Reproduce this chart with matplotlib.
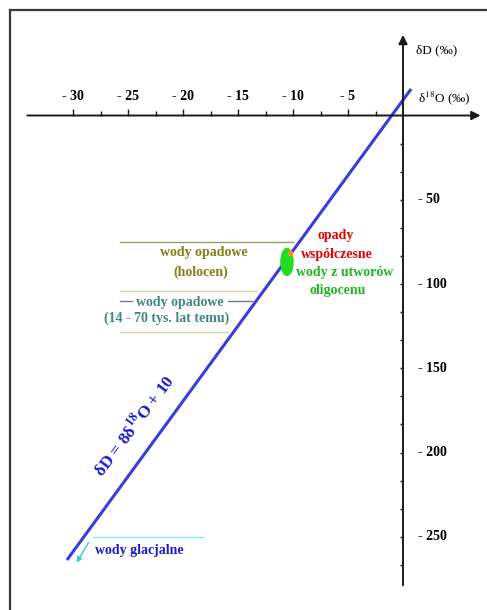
"""Prosta wód meteorycznych: δD vs δ18O"""
import matplotlib.pyplot as plt
from matplotlib.lines import Line2D
from matplotlib.patches import Ellipse

plt.rcParams["font.family"] = ["Liberation Serif", "DejaVu Serif"]
plt.rcParams["mathtext.fontset"] = "stix"

# ── dane ──
x_major = [-30, -25, -20, -15, -10, -5]
x_minor = [-27.5, -22.5, -17.5, -12.5, -7.5, -2.5]
y_major = [-50, -100, -150, -200, -250]
y_minor = [-50 / 3 * k for k in range(1, 17)]

gmwl_d18o = [-30.55, 0.73]      # końce prostej (odczyt z rysunku)
gmwl_dD = [-263.8, 15.7]

holocen_dD = -75.1               # górna linia "wody opadowe (holocen)"
holocen_x = [-25.7, -10.0]
plejst_dD = [-104.2, -128.5]     # linie "14 - 70 tys. lat temu"
plejst_xend = [-13.3, -15.9]
glacj_dD = -250.1
glacj_x = [-28.2, -18.2]

oligocen_center = (-10.55, -86.9)
wspolczesne_pt = (-10.27, -81.6)

# ── rysunek ──
fig = plt.figure(figsize=(4.87, 6.10), dpi=100)
ax = fig.add_axes([0, 0, 1, 1])
ax.set_xlim(-403 / 11.0, 84 / 11.0)
ax.set_ylim(-(610 - 115.5) / 1.685, 115.5 / 1.685)
ax.axis("off")

# ramka
fig.add_artist(Line2D([0.0205, 0.0205], [0.9836, 0.0], color="#3a3a3a", lw=1.6))
fig.add_artist(Line2D([0.0205, 1.0], [0.9836, 0.9836], color="#3a3a3a", lw=1.6))

# osie
ax.annotate("", xy=(7.3, 0), xytext=(-34.4, 0),
            arrowprops=dict(arrowstyle="-|>", color="#1a1a1a", lw=1.4, mutation_scale=13))
ax.annotate("", xy=(0, 49.5), xytext=(0, -280.4),
            arrowprops=dict(arrowstyle="-|>", color="#1a1a1a", lw=1.4, mutation_scale=13))

ax.vlines(x_major, 0, 3.6, color="#1a1a1a", lw=1.0)
ax.vlines(x_minor, 0, 2.4, color="#1a1a1a", lw=1.0)
ax.hlines(y_minor, -0.3, 0, color="#1a1a1a", lw=1.0)

for v in x_major:
    ax.text(v, 11.0, f"- {abs(v)}", ha="center", va="center", fontsize=10, fontweight="bold")
for v in y_major:
    ax.text(1.36, v, f"- {abs(v)}", ha="left", va="center", fontsize=10, fontweight="bold")

ax.text(1.2, 38.9, "δD (‰)", ha="left", va="center", fontsize=9.5)
ax.text(1.36, 10.4, "δ$^{18}$O (‰)", ha="left", va="center", fontsize=9.5)

# linie poziome
ax.plot(holocen_x, [holocen_dD] * 2, color="#9a9a62", lw=1.0)
for d, xe in zip(plejst_dD, plejst_xend):
    ax.plot([-25.7, xe], [d, d], color="#d2d2a6", lw=1.0)
ax.plot([-25.7, -24.6], [-110.1, -110.1], color="#6e7e7e", lw=1.0)
ax.plot([-15.9, -13.7], [-110.1, -110.1], color="#6e7e7e", lw=1.0)
ax.plot(glacj_x, [glacj_dD] * 2, color="#8fe6e6", lw=1.0)

# prosta wód meteorycznych
ax.plot(gmwl_d18o, gmwl_dD, color="#3a3ae0", lw=2.2, solid_capstyle="butt")

# wody oligocenu / opady współczesne
ax.add_patch(Ellipse(oligocen_center, 1.1, 16, color="#22dd22", zorder=3))
ax.plot(*wspolczesne_pt, "o", color="#ff8c1a", ms=3, zorder=4)

# strzałka wód glacjalnych
ax.annotate("", xy=(-29.8, -266.8), xytext=(-28.45, -251.9),
            arrowprops=dict(arrowstyle="-|>", color="#40c8d0", lw=1.0, mutation_scale=8))

# opisy
txt = dict(ha="center", va="center", fontsize=10, fontweight="bold")
ax.text(-6.1, -71.5, "opady", color="#e80000", **txt)
ax.text(-6.0, -82.2, "współczesne", color="#e80000", **txt)
ax.text(-5.3, -92.9, "wody z utworów", color="#1fb51f", **txt)
ax.text(-5.9, -103.6, "oligocenu", color="#1fb51f", **txt)

ax.text(-18.1, -81.6, "wody opadowe", color="#7f7f14", **txt)
ax.text(-18.4, -92.9, "(holocen)", color="#7f7f14", **txt)
ax.text(-20.3, -110.7, "wody opadowe", color="#3f8585", **txt)
ax.text(-21.5, -120.2, "(14 - 70 tys. lat temu)", color="#3f8585", **txt)

ax.text(-24.0, -257.9, "wody glacjalne", color="#1a1acc", **txt)
ax.text(-24.5, -183.7, r"δD = 8δ$^{\mathbf{18}}$O + 10", color="#1a1acc", ha="center", va="center",
        fontsize=12.5, fontweight="bold", rotation=53, rotation_mode="anchor")

fig.savefig("out.png", dpi=100, facecolor="white")
plt.close(fig)
